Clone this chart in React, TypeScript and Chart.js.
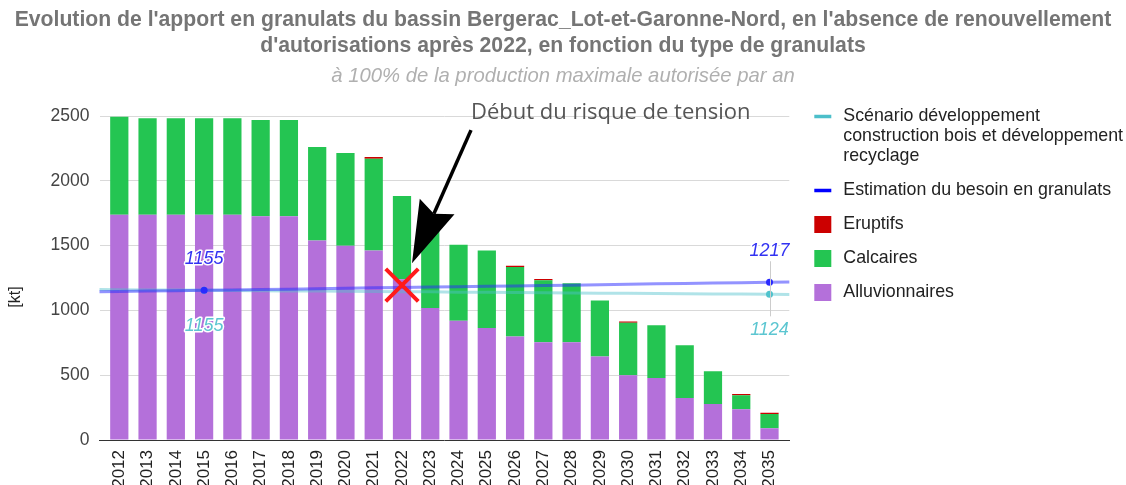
import React, { useEffect, useRef } from 'react';
import { Chart, registerables } from 'chart.js';

Chart.register(...registerables);

// ---------- data ----------
const years = ['2012', '2013', '2014', '2015', '2016', '2017', '2018', '2019', '2020', '2021', '2022', '2023',
  '2024', '2025', '2026', '2027', '2028', '2029', '2030', '2031', '2032', '2033', '2034', '2035'];
const alluvionnaires = [1738, 1738, 1738, 1738, 1738, 1727, 1727, 1539, 1498, 1462, 1240, 1019,
  921, 865, 798, 754, 754, 644, 500, 479, 324, 278, 237, 90];
const calcaires = [756, 744, 744, 744, 744, 742, 742, 721, 716, 708, 642, 681,
  585, 597, 536, 479, 456, 432, 404, 407, 407, 252, 108, 111];
const eruptifs = [0, 0, 0, 0, 0, 0, 0, 0, 0, 13, 0, 0,
  0, 0, 10, 10, 0, 0, 10, 0, 0, 0, 10, 10];
const besoinGranulats = [1146, 1149, 1152, 1155, 1158, 1161, 1164, 1167, 1171, 1174, 1177, 1180,
  1183, 1186, 1189, 1192, 1195, 1198, 1202, 1205, 1208, 1211, 1214, 1217];
const scenarioBoisRecyclage = [1160, 1158, 1157, 1155, 1153, 1152, 1150, 1149, 1147, 1146, 1144, 1143,
  1141, 1140, 1138, 1137, 1135, 1133, 1132, 1130, 1129, 1127, 1126, 1124];
const labelledYears = ['2015', '2035'];
const tensionYear = '2022';
const tensionValue = 1195;
const yMin = 0;
const yMax = 2500;
const yStep = 500;

const titleLines = [
  "Evolution de l'apport en granulats du bassin Bergerac_Lot-et-Garonne-Nord, en l'absence de renouvellement",
  "d'autorisations après 2022, en fonction du type de granulats",
];
const subtitleText = 'à 100% de la production maximale autorisée par an';
const yAxisTitle = '[kt]';
const annotationText = 'Début du risque de tension';

const seriesNames = {
  scenario: ['Scénario développement', 'construction bois et développement', 'recyclage'],
  besoin: ['Estimation du besoin en granulats'],
  eruptifs: ['Eruptifs'],
  calcaires: ['Calcaires'],
  alluvionnaires: ['Alluvionnaires'],
};

// ---------- styles ----------
const FONT = '"Liberation Sans", Arial, Helvetica, sans-serif';
const C_PURPLE = '#b470da';
const C_GREEN = '#24c552';
const C_RED = '#cc0000';
const C_BLUE = '#0000ff';
const C_CYAN = '#4cbfca';

const legendEntries = [
  { lines: seriesNames.scenario, color: C_CYAN, kind: 'line' },
  { lines: seriesNames.besoin, color: C_BLUE, kind: 'line' },
  { lines: seriesNames.eruptifs, color: C_RED, kind: 'box' },
  { lines: seriesNames.calcaires, color: C_GREEN, kind: 'box' },
  { lines: seriesNames.alluvionnaires, color: C_PURPLE, kind: 'box' },
];

const extendLinesPlugin = {
  id: 'extendLines',
  afterDatasetDraw(chart: any, args: any) {
    const ds = chart.data.datasets[args.index];
    if (!ds.extendToEdges) return;
    const pts = args.meta.data;
    if (pts.length < 2) return;
    const area = chart.chartArea;
    const ctx = chart.ctx;
    ctx.save();
    ctx.strokeStyle = ds.borderColor;
    ctx.lineWidth = ds.borderWidth;
    ctx.lineCap = 'butt';
    const p0 = pts[0], p1 = pts[1];
    const sL = (p1.y - p0.y) / (p1.x - p0.x);
    ctx.beginPath();
    ctx.moveTo(area.left, p0.y - sL * (p0.x - area.left));
    ctx.lineTo(p0.x, p0.y);
    ctx.stroke();
    const pn = pts[pts.length - 1], pm = pts[pts.length - 2];
    const sR = (pn.y - pm.y) / (pn.x - pm.x);
    ctx.beginPath();
    ctx.moveTo(pn.x, pn.y);
    ctx.lineTo(area.right, pn.y + sR * (area.right - pn.x));
    ctx.stroke();
    ctx.restore();
  },
};

const pointLabelsPlugin = {
  id: 'pointLabels',
  afterDatasetsDraw(chart: any) {
    const ctx = chart.ctx;
    ctx.save();
    const lastIdx = years.indexOf(labelledYears[labelledYears.length - 1]);
    const pb = chart.getDatasetMeta(3).data[lastIdx];
    const ps = chart.getDatasetMeta(4).data[lastIdx];
    if (pb && ps) {
      ctx.strokeStyle = '#cccccc';
      ctx.lineWidth = 1;
      ctx.beginPath();
      ctx.moveTo(Math.round(pb.x) + 0.5, pb.y - 21);
      ctx.lineTo(Math.round(pb.x) + 0.5, ps.y + 22);
      ctx.stroke();
    }
    chart.data.datasets.forEach((ds: any, di: number) => {
      if (!ds.labelSide) return;
      const meta = chart.getDatasetMeta(di);
      labelledYears.forEach((yr) => {
        const i = years.indexOf(yr);
        const p = meta.data[i];
        if (!p) return;
        const text = String(ds.data[i]);
        const y = ds.labelSide === 'above' ? p.y - 31 : p.y + 36;
        ctx.font = `italic 18px ${FONT}`;
        ctx.textAlign = 'center';
        ctx.textBaseline = 'middle';
        ctx.lineJoin = 'round';
        ctx.strokeStyle = '#ffffff';
        ctx.lineWidth = 3;
        ctx.strokeText(text, p.x, y);
        ctx.fillStyle = ds.labelColor;
        ctx.fillText(text, p.x, y);
      });
    });
    ctx.restore();
  },
};

const annotationPlugin = {
  id: 'tensionAnnotation',
  afterDraw(chart: any) {
    const idx = years.indexOf(tensionYear);
    const p = chart.getDatasetMeta(5).data[idx];
    if (!p) return;
    const ctx = chart.ctx;
    const area = chart.chartArea;
    ctx.save();
    ctx.font = `22px "Open Sans", Roboto, ${FONT}`;
    ctx.fillStyle = '#555555';
    ctx.textAlign = 'left';
    ctx.textBaseline = 'middle';
    ctx.fillText(annotationText, p.x + 69, area.top - 3);
    const sx = p.x + 69, sy = p.y - 155;
    const tx = p.x + 10, ty = p.y - 22;
    const dx = tx - sx, dy = ty - sy;
    const len = Math.hypot(dx, dy);
    const ux = dx / len, uy = dy / len;
    const nx = -uy, ny = ux;
    const headLen = 62, headHalf = 19, notch = 8;
    const bx = tx - ux * headLen, by = ty - uy * headLen;
    ctx.strokeStyle = '#000000';
    ctx.fillStyle = '#000000';
    ctx.lineWidth = 3.5;
    ctx.beginPath();
    ctx.moveTo(sx, sy);
    ctx.lineTo(bx + ux * notch, by + uy * notch);
    ctx.stroke();
    ctx.beginPath();
    ctx.moveTo(tx, ty);
    ctx.lineTo(bx + nx * headHalf, by + ny * headHalf);
    ctx.lineTo(bx + ux * notch, by + uy * notch);
    ctx.lineTo(bx - nx * headHalf, by - ny * headHalf);
    ctx.closePath();
    ctx.fill();
    ctx.restore();
  },
};

const sideTextPlugin = {
  id: 'sideText',
  afterDraw(chart: any) {
    const ctx = chart.ctx;
    const area = chart.chartArea;
    ctx.save();
    ctx.font = `16px ${FONT}`;
    ctx.fillStyle = '#222222';
    ctx.textAlign = 'center';
    ctx.textBaseline = 'middle';
    ctx.translate(15.5, (area.top + area.bottom) / 2 + 19);
    ctx.rotate(-Math.PI / 2);
    ctx.fillText(yAxisTitle, 0, 0);
    ctx.restore();

    ctx.save();
    const swX = area.right + 25;
    const txX = area.right + 54;
    let y = area.top + 0.5;
    ctx.font = `17.8px ${FONT}`;
    ctx.textAlign = 'left';
    ctx.textBaseline = 'middle';
    legendEntries.forEach((e) => {
      ctx.fillStyle = e.color;
      if (e.kind === 'line') {
        ctx.fillRect(swX, y - 1.75, 17, 3.5);
      } else {
        ctx.fillRect(swX, y - 8.5, 17, 17);
      }
      ctx.fillStyle = '#222222';
      e.lines.forEach((ln, k) => {
        ctx.fillText(ln, txX, y + k * 20);
      });
      y += (e.lines.length - 1) * 20 + 34;
    });
    ctx.restore();
  },
};

export default function App() {
  const canvasRef = useRef<HTMLCanvasElement | null>(null);

  useEffect(() => {
    const canvas = canvasRef.current;
    if (!canvas) return;
    const isLabelled = (i: number) => labelledYears.includes(years[i]);
    const chart = new Chart(canvas, {
      type: 'bar',
      data: {
        labels: years,
        datasets: [
          {
            type: 'bar', label: seriesNames.alluvionnaires[0], data: alluvionnaires,
            backgroundColor: C_PURPLE, stack: 'apport', order: 3,
            barPercentage: 0.645, categoryPercentage: 1,
          },
          {
            type: 'bar', label: seriesNames.calcaires[0], data: calcaires,
            backgroundColor: C_GREEN, stack: 'apport', order: 3,
            barPercentage: 0.645, categoryPercentage: 1,
          },
          {
            type: 'bar', label: seriesNames.eruptifs[0], data: eruptifs,
            backgroundColor: C_RED, stack: 'apport', order: 3,
            barPercentage: 0.645, categoryPercentage: 1,
          },
          {
            type: 'line', label: seriesNames.besoin[0], data: besoinGranulats,
            borderColor: 'rgba(40,40,255,0.5)', borderWidth: 3, stack: 'besoin', order: 1,
            pointRadius: (c: any) => (isLabelled(c.dataIndex) ? 3.5 : 0),
            pointBackgroundColor: '#2a2aff', pointBorderWidth: 0,
            tension: 0, fill: false,
            extendToEdges: true, labelSide: 'above', labelColor: '#3232f2',
          } as any,
          {
            type: 'line', label: seriesNames.scenario.join(' '), data: scenarioBoisRecyclage,
            borderColor: 'rgba(80,192,204,0.45)', borderWidth: 3, stack: 'scenario', order: 2,
            pointRadius: (c: any) => (isLabelled(c.dataIndex) ? 3.5 : 0),
            pointBackgroundColor: '#4fc3cd', pointBorderWidth: 0,
            tension: 0, fill: false,
            extendToEdges: true, labelSide: 'below', labelColor: '#5cc6d1',
          } as any,
          {
            type: 'line', label: annotationText,
            data: years.map((y) => (y === tensionYear ? tensionValue : null)),
            showLine: false, stack: 'tension', order: 0,
            pointStyle: 'crossRot', pointRadius: 23, pointBorderWidth: 4,
            pointBorderColor: '#ff1a1a', pointBackgroundColor: '#ff1a1a',
          } as any,
        ],
      },
      options: {
        animation: false,
        responsive: false,
        maintainAspectRatio: false,
        events: [],
        layout: { padding: 0 },
        plugins: {
          legend: { display: false },
          tooltip: { enabled: false },
          title: {
            display: true,
            text: titleLines,
            color: '#757575',
            font: { family: FONT, size: 21.2, weight: 'bold', lineHeight: 26 / 21.2 },
            padding: { top: 7, bottom: 0 },
          },
          subtitle: {
            display: true,
            text: subtitleText,
            color: '#b0b0b0',
            font: { family: FONT, size: 20.3, style: 'italic', lineHeight: 24 / 20.3 },
            padding: { top: 5, bottom: 28 },
          },
        },
        scales: {
          x: {
            stacked: true,
            grid: { display: false, drawTicks: false },
            border: { display: true, color: '#333333', width: 1 },
            ticks: {
              autoSkip: false, minRotation: 90, maxRotation: 90, padding: 10,
              color: '#222222', font: { family: FONT, size: 17 },
            },
            afterBuildTicks: (s: any) => { s._startValue -= 0.2; s._valueRange += 0.4; },
            afterFit: (s: any) => { s.height = 52; },
          },
          y: {
            stacked: true,
            min: yMin, max: yMax,
            ticks: {
              stepSize: yStep, padding: 10, color: '#444444', font: { family: FONT, size: 17.5 },
              callback: (v: any) => String(v),
            },
            grid: {
              drawTicks: false,
              color: (c: any) => (c.tick && c.tick.value === 0 ? 'rgba(0,0,0,0)' : '#d9d9d9'),
            },
            border: { display: false },
            title: { display: false },
            afterFit: (s: any) => { s.width = 99.5; },
          },
          yRight: {
            position: 'right',
            display: true,
            grid: { display: false, drawTicks: false },
            border: { display: false },
            ticks: { display: false },
            afterFit: (s: any) => { s.width = 1126 - 789.3; },
          },
        },
      } as any,
      plugins: [extendLinesPlugin, pointLabelsPlugin, annotationPlugin, sideTextPlugin],
    });
    return () => chart.destroy();
  }, []);

  return (
    <div style={{ position: 'absolute', left: 0, top: 0, width: 1126, height: 492, background: '#ffffff' }}>
      <canvas ref={canvasRef} width={1126} height={492} style={{ width: 1126, height: 492, display: 'block' }} />
    </div>
  );
}
